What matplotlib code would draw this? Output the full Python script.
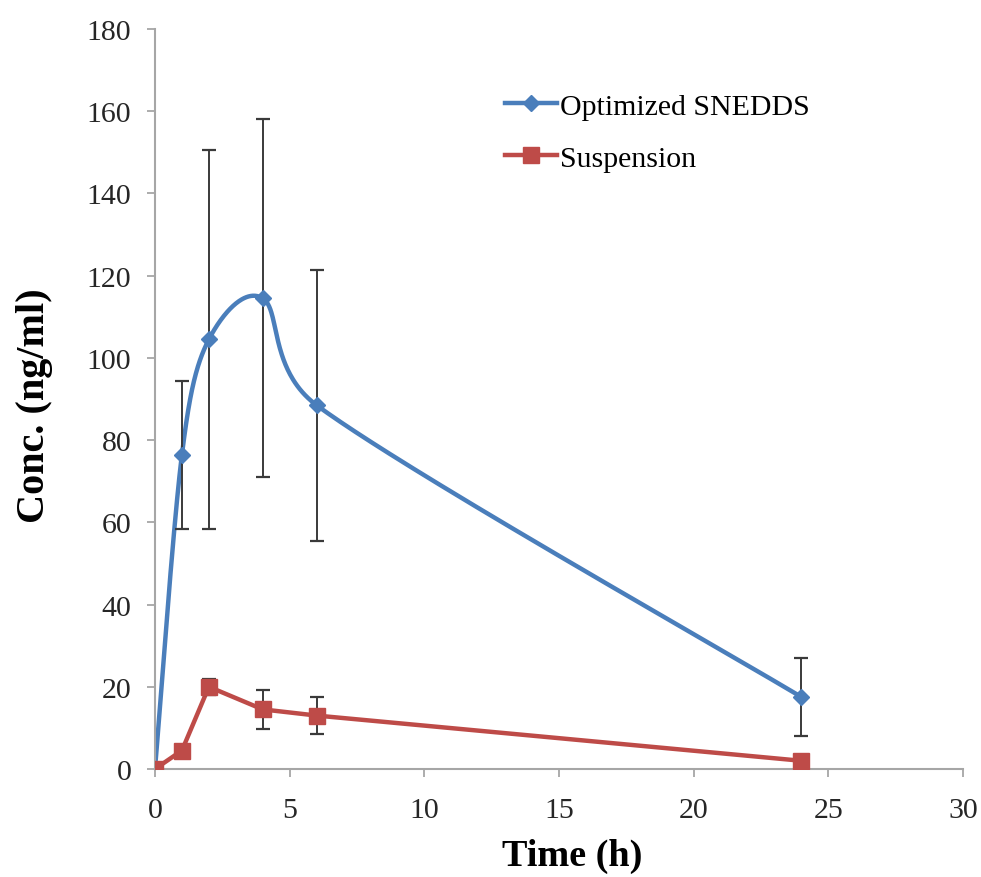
import numpy as np
import matplotlib.pyplot as plt
from matplotlib.lines import Line2D

# Data
time_h = [0, 1, 2, 4, 6, 24]
snedds = [0, 76.5, 104.5, 114.5, 88.5, 17.5]
snedds_err = [0, 18, 46, 43.5, 33, 9.5]
suspension = [0, 4.5, 20, 14.5, 13, 2]
suspension_err = [0, 0, 2, 4.8, 4.6, 0]

blue = '#4A7EBB'
red = '#BE4B48'
grey = '#A6A6A6'

plt.rcParams['font.family'] = ['Liberation Serif', 'DejaVu Serif']

fig = plt.figure(figsize=(9.81, 8.78), dpi=100)
ax = fig.add_axes([0.158, 0.123, 0.8237, 0.8428])
ax.set_xlim(0, 30)
ax.set_ylim(0, 180)


# Excel style smoothed line (bezier, control points in screen space,
# shortened when a neighbouring segment is much longer)
def smooth(x, y, sx, sy, n=80):
    p = np.column_stack([np.asarray(x, float) * sx, np.asarray(y, float) * sy])
    m = len(p)
    out = [p[0]]
    for i in range(m - 1):
        p0, p1 = p[max(i - 1, 0)], p[i]
        p2, p3 = p[i + 1], p[min(i + 2, m - 1)]
        d02 = np.hypot(*(p2 - p0))
        d12 = np.hypot(*(p2 - p1))
        d13 = np.hypot(*(p3 - p1))
        f1 = d12 / d02 / 2 if d02 / 6 >= d12 / 2 else 1 / 6
        f2 = d12 / d13 / 2 if d13 / 6 >= d12 / 2 else 1 / 6
        c1 = p1 + (p2 - p0) * f1
        c2 = p2 - (p3 - p1) * f2
        t = np.linspace(0, 1, n)[1:, None]
        pts = (1 - t) ** 3 * p1 + 3 * (1 - t) ** 2 * t * c1 + 3 * (1 - t) * t ** 2 * c2 + t ** 3 * p2
        out.extend(pts)
    out = np.array(out)
    return out[:, 0] / sx, out[:, 1] / sy


sx = 808 / 30
sy = 740 / 180
bx, by = smooth(time_h, snedds, sx, sy)

ax.plot(bx, by, color=blue, lw=3.2, zorder=2)
ax.plot(time_h, suspension, color=red, lw=3.2, zorder=2)

ax.errorbar(time_h[1:], snedds[1:], yerr=snedds_err[1:], fmt='none',
            ecolor='#3A3A3A', elinewidth=1.4, capsize=5, capthick=1.6, zorder=3)
ax.errorbar(time_h[2:5], suspension[2:5], yerr=suspension_err[2:5], fmt='none',
            ecolor='#3A3A3A', elinewidth=1.4, capsize=5, capthick=1.6, zorder=3)

ax.plot(time_h, snedds, ls='none', marker='D', ms=8.5, color=blue, zorder=4)
ax.plot(time_h, suspension, ls='none', marker='s', ms=12, color=red, zorder=4)

ax.set_xticks(np.arange(0, 31, 5))
ax.set_yticks(np.arange(0, 181, 20))
for s in ['top', 'right']:
    ax.spines[s].set_visible(False)
for s in ['left', 'bottom']:
    ax.spines[s].set_color(grey)
    ax.spines[s].set_linewidth(1.5)
ax.tick_params(direction='out', length=6, width=1.3, color=grey,
               labelsize=21.5, labelcolor='#262626')
ax.tick_params(axis='x', pad=14)
ax.tick_params(axis='y', pad=11)

ax.set_xlabel('Time (h)', fontsize=27.5, fontweight='bold')
ax.xaxis.set_label_coords(0.516, -0.093)
ax.set_ylabel('Conc. (ng/ml)', fontsize=29, fontweight='bold')
ax.yaxis.set_label_coords(-0.126, 0.493)

handles = [Line2D([], [], color=blue, lw=3.2, marker='D', ms=8.5),
           Line2D([], [], color=red, lw=3.2, marker='s', ms=12)]
ax.legend(handles, ['Optimized SNEDDS', 'Suspension'], loc='upper left',
          bbox_to_anchor=(0.433, 0.914), frameon=False, fontsize=21.5,
          handlelength=1.75, handletextpad=0.1, labelspacing=0.85,
          borderpad=0, borderaxespad=0)

fig.savefig('out.png', dpi=100)
